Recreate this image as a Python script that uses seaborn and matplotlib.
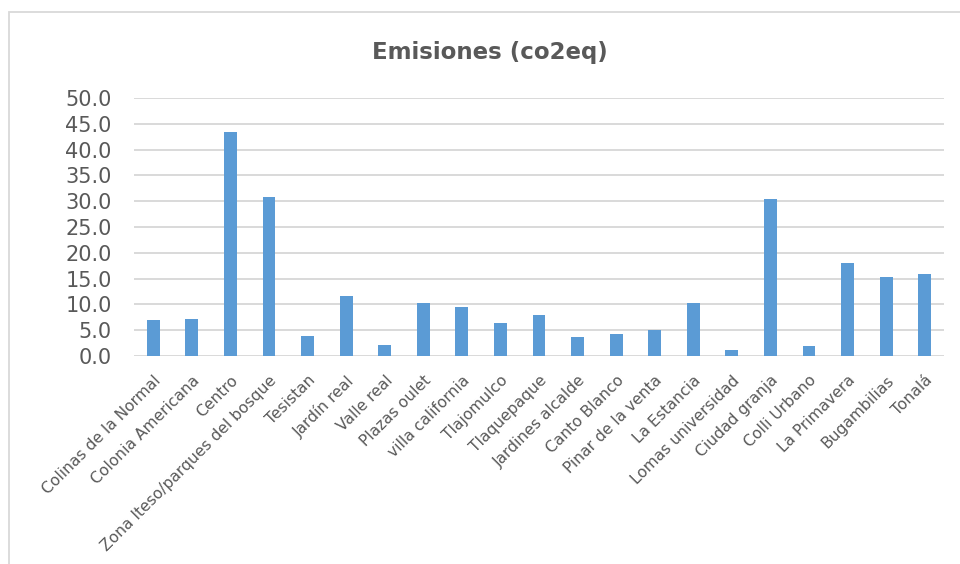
import matplotlib
matplotlib.use("Agg")
import matplotlib.pyplot as plt
import seaborn as sns
from matplotlib.patches import Rectangle

# datos
zonas = ["Colinas de la Normal", "Colonia Americana", "Centro",
         "Zona Iteso/parques del bosque", "Tesistan", "Jardín real",
         "Valle real", "Plazas oulet", "villa california", "Tlajomulco",
         "Tlaquepaque", "Jardines alcalde", "Canto Blanco",
         "Pinar de la venta", "La Estancia", "Lomas universidad",
         "Ciudad granja", "Colli Urbano", "La Primavera", "Bugambilias",
         "Tonalá"]
emisiones = [6.9, 7.1, 43.5, 30.8, 3.9, 11.6, 2.2, 10.2, 9.4, 6.4,
             8.0, 3.6, 4.2, 5.0, 10.2, 1.1, 30.5, 2.0, 18.0, 15.4, 15.8]
y_ticks = [0, 5, 10, 15, 20, 25, 30, 35, 40, 45, 50]

sns.set_style("white")
plt.rcParams['font.family'] = ['DejaVu Sans']

gris_texto = "#595959"
gris_linea = "#D9D9D9"

fig = plt.figure(figsize=(9.6, 5.64), dpi=100)
ax = fig.add_axes([134 / 960, 1 - 356 / 564, (944 - 134) / 960, (356 - 98) / 564])

sns.barplot(x=zonas, y=emisiones, color="#5B9BD5", saturation=1,
            width=0.33, linewidth=0, ax=ax)

ax.set_ylim(0, 50)
ax.set_xlim(-0.5, len(zonas) - 0.5)
ax.set_yticks(y_ticks)
ax.set_yticklabels([f"{v:.1f}" for v in y_ticks], fontsize=15, color=gris_texto)
ax.yaxis.grid(True, color=gris_linea, linewidth=1.4)
ax.set_axisbelow(True)
ax.tick_params(axis="y", length=0, pad=16)
ax.tick_params(axis="x", length=0, pad=12)
ax.set_xticks(range(len(zonas)))
ax.set_xticklabels(zonas, rotation=45, ha="right", rotation_mode="anchor",
                   fontsize=11.2, color=gris_texto)
for s in ax.spines.values():
    s.set_visible(False)
ax.set_xlabel("")
ax.set_ylabel("")

fig.text(490 / 960, 1 - 52 / 564, "Emisiones (co2eq)", ha="center", va="center",
         fontsize=16.5, fontweight="bold", color=gris_texto)

# marco del area del grafico
fig.patches.append(Rectangle((9 / 960, -0.1), 1.2, 1 - 12 / 564 + 0.1,
                             transform=fig.transFigure, fill=False,
                             edgecolor=gris_linea, linewidth=1.3))

fig.savefig("out.png", dpi=100)
